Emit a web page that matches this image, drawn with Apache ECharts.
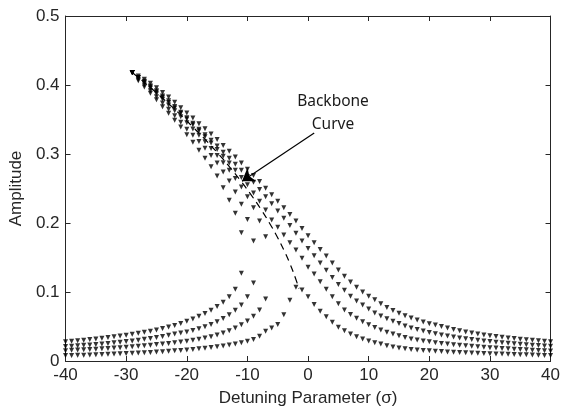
<!DOCTYPE html>
<html><head><meta charset="utf-8">
<script src="https://cdn.jsdelivr.net/npm/echarts@6/dist/echarts.min.js"></script>
<style>html,body{margin:0;padding:0;background:#fff}#c{width:563px;height:412px}</style>
</head><body><div id="c"></div>
<script>
// Detuning parameter values (integer sweep steps)
const sigmaAll = [-40,-39,-38,-37,-36,-35,-34,-33,-32,-31,-30,-29,-28,-27,-26,-25,-24,-23,-22,-21,-20,-19,-18,-17,-16,-15,-14,-13,-12,-11,-10,-9,-8,-7,-6,-5,-4,-3,-2,-1,0,1,2,3,4,5,6,7,8,9,10,11,12,13,14,15,16,17,18,19,20,21,22,23,24,25,26,27,28,29,30,31,32,33,34,35,36,37,38,39,40];

// Lower branches (sigma -40 .. jump point)
const lower1Amp = [.028,.0287,.0294,.0302,.031,.0319,.0329,.034,.035,.0362,.0374,.0387,.0401,.0416,.0432,.045,.047,.0492,.0516,.0543,.0575,.061,.0648,.069,.0735,.079,.085,.093,.104,.127]; // -40..-11
const lower2Amp = [.021,.0215,.0221,.0227,.0233,.024,.0247,.0255,.0263,.0272,.0281,.0291,.0302,.0314,.0327,.0341,.0356,.0373,.0391,.0405,.042,.0443,.0468,.0497,.053,.057,.0615,.067,.0735,.081,.093,.113]; // -40..-9
const lower3Amp = [.015,.0154,.0158,.0162,.0166,.0171,.0176,.0181,.0187,.0193,.0199,.0206,.0213,.0221,.023,.0238,.0246,.0255,.0265,.0275,.0285,.030,.0315,.0333,.0353,.0377,.0405,.0438,.0478,.0525,.058,.065,.074,.090]; // -40..-7
// Single-valued response (sigma -40..40)
const curve4Amp = [.0078,.008,.0083,.0085,.0088,.0091,.0094,.0097,.0101,.0104,.0108,.0112,.0116,.012,.0125,.013,.0135,.0141,.0147,.0153,.016,.0168,.0176,.0185,.0195,.0206,.0218,.0232,.0247,.0265,.0285,.031,.036,.043,.048,.053,.067,.088,.107,.103,.093,.082,.072,.064,.056,.049,.044,.039,.035,.032,.029,.0265,.0245,.022,.0203,.019,.0178,.0168,.016,.0153,.0147,.0142,.0137,.0132,.0128,.0124,.012,.0116,.0112,.0109,.0106,.0103,.01,.0097,.0094,.0091,.0089,.0086,.0084,.0081,.0079];
// Upper branches (sigma -29..40)
const upper1Amp = [.418,.413,.4085,.4025,.396,.389,.3825,.375,.367,.3595,.352,.344,.3365,.329,.321,.3125,.304,.2955,.287,.278,.269,.26,.2505,.241,.2315,.222,.2125,.203,.192,.1815,.1715,.1615,.152,.142,.132,.123,.1146,.107,.100,.094,.0886,.083,.0776,.0733,.0693,.0657,.0625,.0595,.0567,.054,.052,.050,.048,.0458,.0438,.042,.0405,.039,.0377,.0365,.0354,.0343,.0334,.0325,.0316,.0308,.03,.0293,.0286,.028];
const upper2Amp = [.418,.411,.4055,.3985,.3915,.384,.377,.369,.3605,.3525,.3445,.336,.328,.32,.3115,.3027,.294,.2853,.2766,.2675,.259,.2486,.2382,.2278,.2174,.207,.1963,.1853,.174,.163,.1525,.142,.1315,.121,.111,.1025,.094,.087,.081,.0755,.0695,.0651,.0611,.0575,.0542,.0508,.048,.0455,.0433,.0413,.0395,.0378,.0362,.0347,.0334,.0322,.0311,.0301,.0291,.0282,.0273,.0265,.0257,.025,.0243,.0236,.023,.0224,.0218,.0212];
const upper3Amp = [.418,.411,.4042,.3972,.39,.3823,.3748,.3668,.359,.3506,.3424,.3336,.325,.3158,.3067,.2968,.2871,.2766,.2661,.2553,.2434,.2315,.2189,.2045,.194,.1825,.1715,.161,.149,.136,.126,.115,.104,.093,.083,.074,.0675,.062,.057,.0525,.0485,.045,.0418,.039,.0365,.0342,.032,.0305,.0291,.0278,.0266,.0255,.0245,.0236,.0228,.022,.0213,.0207,.02,.0193,.0187,.0181,.0176,.0171,.0166,.0162,.0157,.0153,.0149,.0145];
// Unstable (middle) branches
const middle1Amp = [.418,.406,.397,.388,.3785,.3685,.359,.349,.339,.328,.317,.3055,.294,.2815,.268,.251,.233,.214,.186]; // -29..-11
const middle2Amp = [.418,.408,.4,.3915,.383,.374,.365,.3555,.346,.336,.327,.318,.3085,.298,.287,.274,.261,.245,.227,.205,.174]; // -29..-9
const middle3Amp = [.418,.4105,.403,.3952,.3873,.3793,.3711,.3627,.3541,.3453,.3364,.3272,.3177,.308,.2978,.2873,.2764,.2646,.252,.238,.222,.203,.18]; // -29..-7
// Backbone curve
const backboneAmp = [.418,.40,.38,.36,.34,.32,.30,.28,.26,.24,.22,.20,.18,.16,.14,.12,.105];
const backboneSigma = [-29,-26.5,-23.9,-21.4,-19.1,-16.85,-14.77,-12.82,-11.01,-9.33,-7.78,-6.37,-5.09,-3.95,-2.94,-2.07,-1.5];
// Annotation arrow (from text to curve)
const arrowFrom = [1.02, 0.3305];
const arrowTo = [-10.9, 0.2606];
const xTicks = {min:-40, max:40, interval:10};
const yTicks = {min:0, max:0.5, interval:0.1};

function branch(lo, hi, amps) {
  const s = sigmaAll.filter(v => v >= lo && v <= hi);
  return s.map((v, i) => [v, amps[i]]);
}
const AX = '#262626';
const FONT = 'Liberation Sans, Arial, sans-serif';
function dots(data) {
  return {type:'scatter', data, symbol:'triangle', symbolRotate:180, symbolSize:5,
    itemStyle:{color:'#000'}, silent:true, animation:false};
}
const baseX = {type:'value', min:xTicks.min, max:xTicks.max, interval:xTicks.interval,
  splitLine:{show:false}, axisLine:{show:true, onZero:false, lineStyle:{color:AX, width:1}},
  axisTick:{show:true, inside:true, length:5, lineStyle:{color:AX}}};
const baseY = {type:'value', min:yTicks.min, max:yTicks.max, interval:yTicks.interval,
  splitLine:{show:false}, axisLine:{show:true, onZero:false, lineStyle:{color:AX, width:1}},
  axisTick:{show:true, inside:true, length:5, lineStyle:{color:AX}}};

const chart = echarts.init(document.getElementById('c'));
chart.setOption({
  animation:false,
  backgroundColor:'#fff',
  grid:{left:61, right:10, top:16, bottom:50, containLabel:false},
  xAxis:[
    Object.assign({}, baseX, {position:'bottom',
      axisLabel:{color:AX, fontSize:17, fontFamily:FONT, margin:6},
      name:'Detuning Parameter (σ)', nameLocation:'middle', nameGap:29,
      nameTextStyle:{color:AX, fontSize:17, fontFamily:FONT}}),
    Object.assign({}, baseX, {position:'top', axisLabel:{show:false}})
  ],
  yAxis:[
    Object.assign({}, baseY, {position:'left',
      axisLabel:{color:AX, fontSize:17, fontFamily:FONT, margin:6,
        formatter: v => v === 0 ? '0' : v.toFixed(1)},
      name:'Amplitude', nameLocation:'middle', nameGap:33,
      nameTextStyle:{color:AX, fontSize:17, fontFamily:FONT}}),
    Object.assign({}, baseY, {position:'right', axisLabel:{show:false}})
  ],
  series:[
    dots(branch(-40, -11, lower1Amp)),
    dots(branch(-40, -9, lower2Amp)),
    dots(branch(-40, -7, lower3Amp)),
    dots(branch(-40, 40, curve4Amp)),
    dots(branch(-29, 40, upper1Amp)),
    dots(branch(-29, 40, upper2Amp)),
    dots(branch(-29, 40, upper3Amp)),
    dots(branch(-29, -11, middle1Amp)),
    dots(branch(-29, -9, middle2Amp)),
    dots(branch(-29, -7, middle3Amp)),
    {type:'line', data: backboneSigma.map((s, i) => [s, backboneAmp[i]]), smooth:true,
      showSymbol:false, silent:true, lineStyle:{color:'#000', width:1.2, type:[7,5]},
      markLine:{silent:true, symbol:['none','arrow'], symbolSize:12, animation:false,
        label:{show:false}, lineStyle:{color:'#000', width:1.2, type:'solid'},
        data:[[{coord:arrowFrom}, {coord:arrowTo}]]}}
  ],
  graphic:[{type:'text', x:333, y:113, silent:true,
    style:{text:'Backbone\nCurve', font:'15.5px "Noto Sans"', fill:'#1a1a1a',
      align:'center', verticalAlign:'middle', lineHeight:23}}]
});
</script></body></html>
